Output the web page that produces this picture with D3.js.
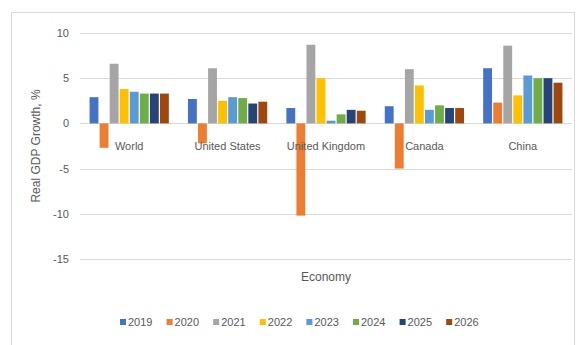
<!DOCTYPE html>
<html><head><meta charset="utf-8">
<script src="https://cdn.jsdelivr.net/npm/d3@7"></script>
<style>body{margin:0;background:#fff}svg{display:block}text{font-family:"Liberation Sans",Arial,sans-serif;fill:#595959}</style>
</head><body><svg id="c" width="583" height="345"></svg>
<script>
const categories = ["World","United States","United Kingdom","Canada","China"];
const years = ["2019","2020","2021","2022","2023","2024","2025","2026"];
const colors = ["#4472C4","#ED7D31","#A5A5A5","#FFC000","#5B9BD5","#70AD47","#264478","#9E480E"];
const v2019 = [2.9, 2.7, 1.7, 1.9, 6.1];
const v2020 = [-2.7, -2.2, -10.2, -5.0, 2.3];
const v2021 = [6.6, 6.1, 8.7, 6.0, 8.6];
const v2022 = [3.8, 2.5, 5.0, 4.2, 3.1];
const v2023 = [3.5, 2.9, 0.3, 1.5, 5.3];
const v2024 = [3.3, 2.8, 1.0, 2.0, 5.0];
const v2025 = [3.3, 2.2, 1.5, 1.7, 5.0];
const v2026 = [3.3, 2.4, 1.4, 1.7, 4.5];
const yTicks = [10, 5, 0, -5, -10, -15];
const series = [v2019,v2020,v2021,v2022,v2023,v2024,v2025,v2026];

const svg = d3.select("#c");
svg.append("rect").attr("x",11.5).attr("y",12.5).attr("width",563).attr("height",340)
  .attr("fill","#fff").attr("stroke","#d9d9d9");

const x0 = d3.scaleBand().domain(categories).range([80,572]).paddingInner(0.17).paddingOuter(0.085);
const x1 = d3.scaleBand().domain(years).range([0,x0.bandwidth()]).padding(0.12);
const y = d3.scaleLinear().domain([-15,10]).range([259,33]);

// gridlines
svg.append("g").selectAll("line").data(yTicks).join("line")
  .attr("x1",80).attr("x2",572).attr("y1",d=>Math.round(y(d))+0.5).attr("y2",d=>Math.round(y(d))+0.5)
  .attr("stroke","#d9d9d9").attr("stroke-width",1);

// y axis labels
const yAxis = d3.axisLeft(y).tickValues(yTicks).tickSize(0).tickPadding(0).tickFormat(d=>String(d));
const ga = svg.append("g").attr("transform","translate(69,0)").call(yAxis);
ga.select(".domain").remove();
ga.selectAll("text").style("font-size","11px").attr("fill","#595959");

// bars
const g = svg.append("g");
categories.forEach((c,ci)=>{
  series.forEach((s,si)=>{
    const v = s[ci];
    g.append("rect")
      .attr("x", x0(c)+x1(years[si]))
      .attr("width", x1.bandwidth())
      .attr("y", y(Math.max(0,v)))
      .attr("height", Math.abs(y(v)-y(0)))
      .attr("fill", colors[si]);
  });
});

// category labels
svg.append("g").selectAll("text").data(categories).join("text")
  .attr("x",d=>x0(d)+x0.bandwidth()/2).attr("y",150)
  .attr("text-anchor","middle").style("font-size","11px").text(d=>d);

// axis titles
svg.append("text").attr("x",326).attr("y",281).attr("text-anchor","middle")
  .style("font-size","12px").text("Economy");
svg.append("text").attr("transform","translate(40,146) rotate(-90)").attr("text-anchor","middle")
  .style("font-size","12px").text("Real GDP Growth, %");

// legend
const lg = svg.append("g");
years.forEach((yr,i)=>{
  const lx = 120 + i*46.6;
  lg.append("rect").attr("x",lx).attr("y",319).attr("width",6).attr("height",6).attr("fill",colors[i]);
  lg.append("text").attr("x",lx+8).attr("y",326).style("font-size","11px").text(yr);
});
</script></body></html>
